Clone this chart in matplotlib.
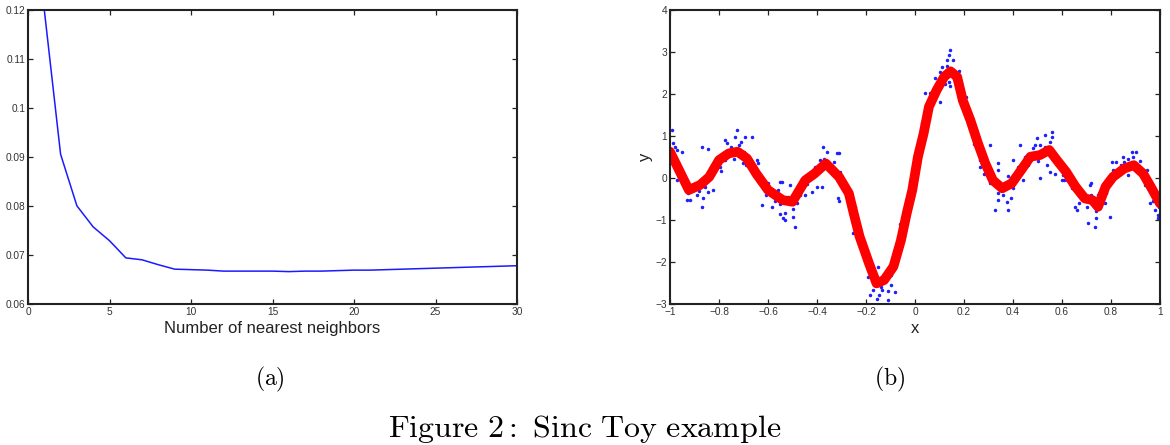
import matplotlib
matplotlib.use('Agg')
import matplotlib.pyplot as plt

plt.rcParams['font.family'] = ['Liberation Sans', 'DejaVu Sans']
plt.rcParams['mathtext.fontset'] = 'cm'

# (a) error vs number of nearest neighbors
k_neighbors = list(range(1, 31))
error = [0.1199, 0.0905, 0.0800, 0.0757, 0.0729, 0.0694, 0.0690, 0.0680, 0.0671, 0.0670,
         0.0669, 0.0667, 0.0667, 0.0667, 0.0667, 0.0666, 0.0667, 0.0667, 0.0668, 0.0669,
         0.0669, 0.0670, 0.0671, 0.0672, 0.0673, 0.0674, 0.0675, 0.0676, 0.0677, 0.0678]
a_yticks = [0.06, 0.07, 0.08, 0.09, 0.1, 0.11, 0.12]
a_ytick_labels = ['0.06', '0.07', '0.08', '0.09', '0.1', '0.11', '0.12']
a_xticks = [0, 5, 10, 15, 20, 25, 30]

# (b) sinc toy: noisy samples (blue) and fitted curve (red)
noisy_x = [-0.99, -0.987, -0.98, -0.973, -0.952, -0.966, -0.96, -0.973, -0.925, -0.932,
           -0.918, -0.891, -0.871, -0.865, -0.844, -0.857, -0.823, -0.85, -0.82, -0.871,
           -0.844, -0.796, -0.776, -0.79, -0.769, -0.776, -0.728, -0.733, -0.694, -0.71,
           -0.701, -0.69, -0.667, -0.646, -0.64, -0.653, -0.64, -0.626, -0.599, -0.585,
           -0.57, -0.551, -0.544, -0.56,
           -0.551, -0.51, -0.531, -0.54, -0.53, -0.497, -0.49, -0.48, -0.449, -0.456,
           -0.422, -0.415, -0.401, -0.41, -0.381, -0.374, -0.36, -0.388, -0.32, -0.31,
           -0.333, -0.305, -0.313, -0.31, -0.279, -0.265, -0.252, -0.24, -0.211, -0.204,
           -0.184, -0.184, -0.17, -0.15, -0.148, -0.136, -0.156, -0.109, -0.11, -0.082,
           -0.10, -0.088, -0.068, -0.06, -0.027, -0.03,
           0.143, 0.139, 0.129, 0.155, 0.109, 0.103, 0.082, 0.139, 0.122, 0.143,
           0.041, 0.06, 0.075, 0.10, 0.19, 0.20, 0.21, 0.21, 0.027, 0.04,
           0.027, 0.238, 0.25, 0.306, 0.265, 0.265, 0.28, 0.34, 0.34, 0.306,
           0.34, 0.34, 0.327, 0.374, 0.38, 0.39, 0.38, 0.401, 0.429, 0.42,
           0.44, 0.45,
           0.497, 0.531, 0.558, 0.56, 0.49, 0.51, 0.53, 0.485, 0.537, 0.55,
           0.51, 0.57, 0.605, 0.60, 0.61, 0.64, 0.653, 0.66, 0.67, 0.714,
           0.72, 0.707, 0.735, 0.74, 0.745, 0.75, 0.775, 0.796, 0.803, 0.81,
           0.82, 0.85, 0.855, 0.884, 0.90, 0.89, 0.87, 0.946, 0.94, 0.959,
           0.97, 0.993, 0.993, 0.98, 0.96,
           -0.99, -0.97, -0.95, -0.94, -0.90, -0.88, -0.86, -0.83, -0.81, -0.78,
           -0.75, -0.74, -0.72, -0.70, -0.68, -0.66, -0.63, -0.61, -0.58, -0.55,
           -0.52, -0.50, -0.47, -0.44, -0.42, -0.39, -0.37, -0.35, -0.33, -0.30,
           -0.29, -0.27, -0.245, -0.23, -0.215, -0.19, -0.17, -0.14, -0.12, -0.10,
           -0.075, -0.06, -0.045, -0.02, 0.00, 0.02, 0.045, 0.07, 0.11, 0.13,
           0.16, 0.18, 0.20, 0.22, 0.24, 0.27, 0.29, 0.31, 0.33, 0.36,
           0.40, 0.42, 0.46, 0.48, 0.50, 0.52, 0.55, 0.57, 0.59, 0.62,
           0.64, 0.66, 0.68, 0.70, 0.72, 0.74, 0.76, 0.78, 0.79, 0.82,
           0.84, 0.87, 0.91, 0.92, 0.94, 0.955, 0.97, 0.985, 0.995]
noisy_y = [1.14, 0.82, 0.74, 0.66, 0.62, 0.26, 0.14, -0.05, -0.37, -0.53,
           -0.53, -0.41, -0.69, -0.47, -0.33, -0.22, -0.29, 0.03, 0.14, 0.74,
           0.68, 0.26, 0.42, 0.16, 0.82, 0.90, 1.14, 0.98, 0.98, 0.85,
           0.34, 0.30, 0.98, 0.42, 0.34, 0.03, -0.08, -0.65, -0.13, -0.69,
           -0.55, -0.85, -0.09, -0.30,
           -0.09, -0.17, -0.84, -0.95, -1.00, -0.93, -1.16, -0.60, -0.41, -0.05,
           -0.33, 0.14, -0.21, 0.26, -0.21, 0.74, 0.62, 0.42, 0.58, 0.58,
           0.18, 0.14, -0.49, -0.56, -0.21, -0.69, -1.32, -1.00, -1.64, -1.95,
           -2.19, -2.79, -2.67, -2.11, -2.79, -2.67, -2.87, -2.91, -2.70, -2.71,
           -2.55, -2.11, -1.40, -1.10, -0.53, -0.85,
           3.04, 2.92, 2.80, 2.80, 2.64, 2.52, 2.36, 2.28, 2.24, 2.17,
           2.01, 2.01, 1.89, 1.81, 1.93, 1.85, 1.93, 1.69, 1.30, 1.10,
           0.82, 0.98, 1.14, 0.78, 0.42, 0.26, 0.10, 0.34, 0.18, -0.13,
           -0.37, -0.53, -0.77, -0.57, -0.77, -0.49, 0.05, 0.42, 0.78, 0.26,
           -0.05, 0.50,
           0.94, 1.02, 1.10, 0.98, 0.78, 0.78, 0.74, 0.50, 0.30, 0.14,
           -0.01, 0.10, 0.07, -0.05, -0.05, -0.25, -0.69, -0.77, -0.60, -0.17,
           -0.13, -1.08, -1.16, -0.96, -0.40, -0.36, -0.60, -0.93, 0.38, 0.18,
           0.38, 0.50, 0.38, 0.62, 0.62, 0.50, 0.07, 0.18, -0.17, -0.61,
           -0.41, -0.88, -0.96, -0.77, -0.30,
           0.45, 0.35, 0.05, -0.12, -0.15, -0.32, -0.05, 0.10, 0.30, 0.55,
           0.72, 0.45, 0.78, 0.62, 0.30, 0.22, -0.02, -0.40, -0.35, -0.62,
           -0.45, -0.75, -0.40, -0.15, 0.02, 0.28, 0.45, 0.20, 0.38, -0.15,
           -0.05, -0.55, -0.70, -1.20, -1.55, -2.35, -2.40, -2.60, -2.25, -2.30,
           -1.95, -1.70, -1.05, -0.10, 0.20, 0.85, 1.45, 1.75, 2.30, 2.65,
           2.35, 2.55, 1.60, 1.50, 0.80, 0.60, 0.20, 0.05, -0.20, -0.40,
           -0.25, 0.05, 0.30, 0.70, 0.40, 0.60, 0.85, 0.55, 0.35, -0.05,
           0.05, -0.35, -0.45, -0.70, -0.40, -0.80, -0.50, -0.35, 0.00, 0.10,
           0.30, 0.45, 0.15, 0.40, 0.05, -0.15, -0.55, -0.45, -0.70]

fit_x = [-1.0, -0.923, -0.877, -0.84, -0.80, -0.76, -0.724, -0.686, -0.648, -0.60,
         -0.54, -0.50, -0.448, -0.41, -0.364, -0.31, -0.27, -0.25, -0.226, -0.188,
         -0.157, -0.126, -0.088, -0.057, -0.034, -0.011, 0.012, 0.035, 0.057, 0.088,
         0.119, 0.145, 0.172, 0.195, 0.226, 0.257, 0.287, 0.318, 0.356, 0.395,
         0.433, 0.471, 0.510, 0.548, 0.579, 0.617, 0.655, 0.693, 0.724, 0.747,
         0.778, 0.808, 0.854, 0.893, 0.931, 0.962, 1.0]
fit_y = [0.62, -0.29, -0.17, 0.02, 0.42, 0.58, 0.62, 0.46, 0.10, -0.29,
         -0.53, -0.57, -0.06, 0.10, 0.34, 0.02, -0.37, -0.85, -1.40, -2.03,
         -2.51, -2.43, -2.11, -1.48, -0.85, -0.29, 0.50, 1.05, 1.69, 2.08,
         2.40, 2.53, 2.40, 1.84, 1.37, 0.82, 0.34, -0.06, -0.25, -0.13,
         0.18, 0.50, 0.54, 0.66, 0.42, 0.14, -0.21, -0.49, -0.53, -0.69,
         -0.21, 0.02, 0.22, 0.30, 0.10, -0.21, -0.61]
b_xticks = [-1, -0.8, -0.6, -0.4, -0.2, 0, 0.2, 0.4, 0.6, 0.8, 1]
b_xtick_labels = ['\u22121', '\u22120.8', '\u22120.6', '\u22120.4', '\u22120.2', '0',
                  '0.2', '0.4', '0.6', '0.8', '1']
b_yticks = [-3, -2, -1, 0, 1, 2, 3, 4]
b_ytick_labels = ['\u22123', '\u22122', '\u22121', '0', '1', '2', '3', '4']

fig = plt.figure(figsize=(11.7, 4.45), dpi=100)
W, H = 1170.0, 445.0
ax1 = fig.add_axes([28 / W, 1 - 304 / H, 489 / W, 294.5 / H])
ax2 = fig.add_axes([670 / W, 1 - 304 / H, 490 / W, 294.5 / H])


def matlab_style(ax):
    for s in ax.spines.values():
        s.set_linewidth(1.5)
        s.set_color('#222222')
    ax.tick_params(direction='in', top=True, right=True, length=3.5, width=0.9,
                   labelsize=7.3, labelcolor='#333333', color='#222222', pad=2)


ax1.plot(k_neighbors, error, color='#1a1aff', lw=1.1)
ax1.set_xlim(0, 30)
ax1.set_ylim(0.06, 0.12)
ax1.set_xticks(a_xticks)
ax1.set_xticklabels([str(t) for t in a_xticks])
ax1.set_yticks(a_yticks)
ax1.set_yticklabels(a_ytick_labels)
ax1.set_xlabel('Number of nearest neighbors', fontsize=12, labelpad=3, color='#222222')
matlab_style(ax1)

ax2.plot(noisy_x, noisy_y, ls='none', marker='.', ms=3, color='#2020ff')
ax2.plot(fit_x, fit_y, color='#ff0000', lw=7, solid_capstyle='round',
         solid_joinstyle='round')
ax2.set_xlim(-1, 1)
ax2.set_ylim(-3, 4)
ax2.set_xticks(b_xticks)
ax2.set_xticklabels(b_xtick_labels)
ax2.set_yticks(b_yticks)
ax2.set_yticklabels(b_ytick_labels)
ax2.set_xlabel('x', fontsize=12, labelpad=3, color='#222222')
ax2.set_ylabel('y', fontsize=12, labelpad=2, color='#222222')
matlab_style(ax2)

fig.text(270 / W, 1 - 379 / H, r'$\mathrm{(a)}$', fontsize=17, ha='center', va='center')
fig.text(890 / W, 1 - 379 / H, r'$\mathrm{(b)}$', fontsize=17, ha='center', va='center')
fig.text(585 / W, 1 - 437 / H, r'$\mathrm{Figure\ 2{:}\ Sinc\ Toy\ example}$', fontsize=23,
         ha='center', va='baseline')

fig.savefig('out.png', dpi=100)
